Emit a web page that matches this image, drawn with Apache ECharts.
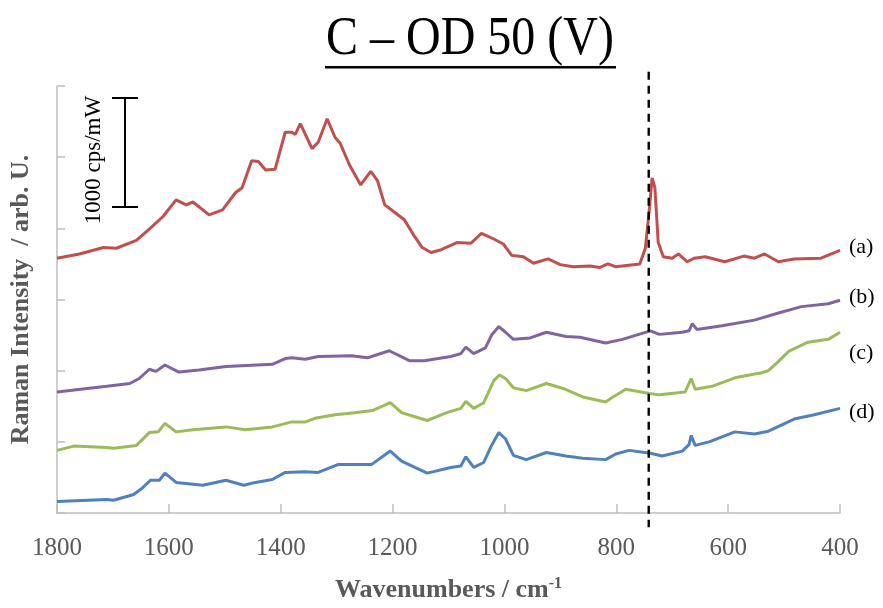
<!DOCTYPE html>
<html>
<head>
<meta charset="utf-8">
<script src="https://cdn.jsdelivr.net/npm/echarts@6/dist/echarts.min.js"></script>
<style>html,body{margin:0;padding:0;background:#fff}#c{width:883px;height:608px}</style>
</head>
<body>
<div id="c"></div>
<script>
// wavenumber (cm-1), intensity (arb. units, offset spectra)
const seriesA = [[1800,3.58],[1760,3.64],[1717,3.73],[1694,3.72],[1658,3.83],[1635,3.99],[1610,4.17],[1587,4.40],[1569,4.33],[1557,4.37],[1528,4.19],[1504,4.26],[1481,4.5],[1469,4.57],[1452,4.95],[1440,4.94],[1427,4.82],[1410,4.83],[1392,5.35],[1380,5.35],[1374,5.32],[1365,5.47],[1344,5.12],[1333,5.21],[1317,5.54],[1303,5.28],[1294,5.2],[1277,4.89],[1257,4.61],[1239,4.8],[1227,4.67],[1214,4.33],[1197,4.23],[1179,4.12],[1161,3.89],[1147,3.73],[1131,3.66],[1113,3.7],[1085,3.8],[1060,3.79],[1041,3.93],[1019,3.85],[1002,3.78],[987,3.62],[966,3.6],[948,3.51],[922,3.57],[900,3.49],[877,3.46],[847,3.47],[829,3.45],[815,3.5],[801,3.46],[758,3.5],[748,3.72],[745,3.95],[741,4.26],[736,4.71],[731,4.57],[725,3.8],[716,3.6],[700,3.58],[689,3.64],[673,3.53],[661,3.58],[641,3.6],[606,3.53],[572,3.61],[553,3.58],[535,3.64],[510,3.53],[482,3.57],[434,3.58],[400,3.69]];
const seriesB = [[1800,1.70],[1711,1.78],[1670,1.82],[1653,1.89],[1635,2.02],[1623,1.99],[1607,2.08],[1582,1.98],[1546,2.01],[1498,2.06],[1415,2.09],[1392,2.17],[1380,2.18],[1356,2.16],[1333,2.2],[1273,2.21],[1245,2.18],[1206,2.28],[1170,2.14],[1143,2.14],[1096,2.2],[1078,2.24],[1069,2.33],[1055,2.24],[1034,2.32],[1023,2.5],[1010,2.62],[998,2.54],[984,2.44],[954,2.46],[925,2.54],[890,2.48],[865,2.47],[819,2.39],[789,2.44],[739,2.56],[723,2.51],[682,2.54],[670,2.56],[664,2.66],[656,2.58],[611,2.63],[553,2.71],[510,2.81],[469,2.9],[421,2.94],[400,2.99]];
const seriesC = [[1800,0.88],[1770,0.94],[1711,0.92],[1699,0.91],[1658,0.95],[1635,1.13],[1619,1.14],[1607,1.26],[1587,1.14],[1557,1.17],[1498,1.21],[1463,1.17],[1415,1.21],[1380,1.28],[1356,1.28],[1339,1.33],[1303,1.38],[1268,1.41],[1236,1.44],[1204,1.55],[1184,1.41],[1138,1.30],[1103,1.41],[1078,1.47],[1069,1.57],[1055,1.47],[1037,1.55],[1019,1.86],[1009,1.94],[998,1.89],[984,1.76],[961,1.72],[925,1.82],[895,1.75],[860,1.63],[819,1.56],[806,1.63],[783,1.74],[741,1.68],[723,1.66],[677,1.70],[666,1.89],[659,1.74],[629,1.78],[588,1.9],[540,1.97],[528,2.0],[510,2.13],[492,2.27],[457,2.4],[421,2.44],[400,2.54]];
const seriesD = [[1800,0.16],[1711,0.19],[1699,0.18],[1663,0.26],[1649,0.34],[1633,0.46],[1617,0.46],[1607,0.56],[1587,0.43],[1539,0.39],[1498,0.46],[1466,0.39],[1445,0.43],[1415,0.47],[1392,0.57],[1356,0.58],[1333,0.57],[1298,0.68],[1238,0.68],[1204,0.87],[1184,0.73],[1138,0.56],[1096,0.64],[1078,0.66],[1069,0.79],[1055,0.64],[1037,0.71],[1023,0.95],[1010,1.13],[998,1.04],[984,0.81],[961,0.75],[925,0.85],[890,0.8],[860,0.77],[819,0.75],[801,0.83],[777,0.88],[739,0.84],[718,0.8],[682,0.87],[670,0.96],[666,1.09],[659,0.95],[634,1.0],[588,1.14],[553,1.11],[528,1.15],[482,1.32],[446,1.38],[400,1.47]];
const seriesNames = ['(a)','(b)','(c)','(d)'];
const seriesColors = ['#C0504D','#8064A2','#9BBB59','#4F81BD'];
const xTicks = [1800,1600,1400,1200,1000,800,600,400];
const markerWavenumber = 742;
const markerYRange = [6.2, -0.2];
const titleText = 'C – OD 50 (V)';

const serif = 'Liberation Serif';
const chart = echarts.init(document.getElementById('c'));
const allData = [seriesA, seriesB, seriesC, seriesD];
const series = allData.map((d, i) => ({
  name: seriesNames[i], type: 'line', data: d, showSymbol: false, smooth: false,
  lineStyle: {color: seriesColors[i], width: 3}, itemStyle: {color: seriesColors[i]},
  clip: false, z: 2
}));
const labelY = [247, 297, 353, 412];
const graphic = [
  {type: 'text', x: 470, y: 39, scaleY: 1.15,
   style: {text: titleText, font: '48px "Liberation Serif"', fill: '#000', align: 'center', verticalAlign: 'middle'}},
  {type: 'rect', shape: {x: 325, y: 66, width: 291, height: 2.5}, style: {fill: '#000'}},
  {type: 'line', shape: {x1: 125, y1: 98, x2: 125, y2: 207}, style: {stroke: '#000', lineWidth: 2}},
  {type: 'line', shape: {x1: 112, y1: 98, x2: 138, y2: 98}, style: {stroke: '#000', lineWidth: 2}},
  {type: 'line', shape: {x1: 112, y1: 207, x2: 138, y2: 207}, style: {stroke: '#000', lineWidth: 2}},
  {type: 'text', x: 94, y: 160, rotation: Math.PI / 2,
   style: {text: '1000 cps/mW', font: '23px "Liberation Serif"', fill: '#000', align: 'center', verticalAlign: 'middle'}}
];
seriesNames.forEach((n, i) => graphic.push({
  type: 'text', x: 849, y: labelY[i],
  style: {text: n, font: '22px "Liberation Serif"', fill: '#000', align: 'left', verticalAlign: 'middle'}
}));

chart.setOption({
  animation: false,
  backgroundColor: '#fff',
  grid: {left: 50, right: 43, top: 86, bottom: 81, containLabel: false},
  xAxis: {
    type: 'value', inverse: true, min: 400, max: 1800, interval: 200,
    name: 'Wavenumbers / cm{sup|-1}', nameLocation: 'middle', nameGap: 63,
    nameTextStyle: {fontFamily: serif, fontSize: 26, fontWeight: 'bold', color: '#595959',
      rich: {sup: {fontFamily: serif, fontSize: 16, fontWeight: 'bold', color: '#595959', verticalAlign: 'top', padding: [0,0,12,0]}}},
    axisLine: {lineStyle: {color: '#BFBFBF', width: 1.5}},
    axisTick: {inside: true, length: 9, lineStyle: {color: '#BFBFBF', width: 1.5}},
    axisLabel: {fontFamily: serif, fontSize: 25, color: '#595959', margin: 23,
      formatter: v => xTicks.includes(v) ? String(v) : ''},
    splitLine: {show: false}
  },
  yAxis: {
    type: 'value', min: 0, max: 6, interval: 1,
    name: 'Raman Intensity  / arb. U.', nameLocation: 'middle', nameGap: 23,
    nameTextStyle: {fontFamily: serif, fontSize: 26, fontWeight: 'bold', color: '#595959'},
    axisLine: {show: true, lineStyle: {color: '#BFBFBF', width: 1.5}},
    axisTick: {show: true, inside: true, length: 8, lineStyle: {color: '#BFBFBF', width: 1.5}},
    axisLabel: {show: false},
    splitLine: {show: false}
  },
  series: series,
  graphic: graphic
});

// dashed reference line, positioned through the chart's own scales
const p1 = chart.convertToPixel({gridIndex: 0}, [markerWavenumber, markerYRange[0]]);
const p2 = chart.convertToPixel({gridIndex: 0}, [markerWavenumber, markerYRange[1]]);
graphic.push({type: 'line', z: 10, shape: {x1: p1[0], y1: p1[1], x2: p2[0], y2: p2[1]},
  style: {stroke: '#000', lineWidth: 2.4, lineDash: [8, 6]}});
chart.setOption({graphic: graphic});
</script>
</body>
</html>
